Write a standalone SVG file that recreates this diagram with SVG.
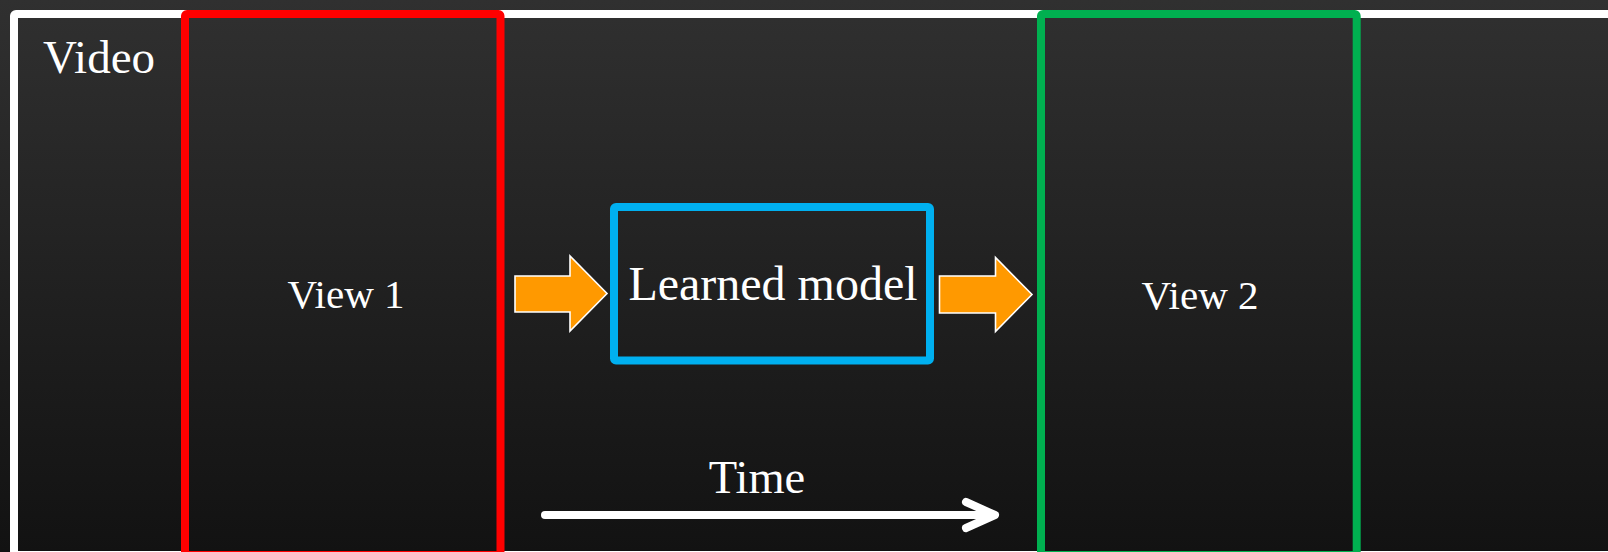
<svg xmlns="http://www.w3.org/2000/svg" width="1608" height="552" viewBox="0 0 1608 552">
  <defs>
    <linearGradient id="bg" x1="0" y1="0" x2="0" y2="1">
      <stop offset="0" stop-color="#303030"/>
      <stop offset="1" stop-color="#121212"/>
    </linearGradient>
  </defs>
  <style>
    .lbl { font-family: "Liberation Serif", "Times New Roman", serif; fill: #ffffff; }
    .frame { fill: none; stroke-width: 8; stroke-linejoin: round; }
    .flow { fill: #ff9900; stroke: #ffffff; stroke-width: 1.6; stroke-linejoin: miter; }
    .time { fill: none; stroke: #ffffff; stroke-width: 8; stroke-linecap: round; stroke-linejoin: round; }
  </style>

  <!-- backdrop -->
  <rect x="0" y="0" width="1608" height="552" fill="url(#bg)"/>

  <!-- video strip -->
  <g id="video">
    <rect x="14" y="14" width="1620" height="541" rx="2" class="frame" stroke="#ffffff"/>
    <text x="43" y="73" class="lbl" font-size="47">Video</text>
  </g>

  <g id="view1">
    <rect x="185" y="14" width="315.5" height="541" rx="2" class="frame" stroke="#ff0000"/>
    <text x="346" y="308" class="lbl" font-size="41" text-anchor="middle">View 1</text>
  </g>

  <g id="model">
    <rect x="614" y="207" width="316" height="153.5" rx="2" class="frame" stroke="#00b0f0"/>
    <text x="773" y="300" class="lbl" font-size="48" text-anchor="middle">Learned model</text>
  </g>

  <g id="view2">
    <rect x="1041" y="14" width="315.7" height="541" rx="2" class="frame" stroke="#00b050"/>
    <text x="1200" y="309" class="lbl" font-size="41" text-anchor="middle">View 2</text>
  </g>

  <g id="time">
    <text x="757" y="493" class="lbl" font-size="46.5" text-anchor="middle">Time</text>
  </g>

  <!-- connectors -->
  <g id="connectors">
    <polygon class="flow" points="515,276 570,276 570,256 607,293.5 570,331 570,312 515,312"/>
    <polygon class="flow" points="939.5,276 995.5,276 995.5,257.5 1032,294.5 995.5,331.5 995.5,313 939.5,313"/>
    <line class="time" x1="545" y1="515" x2="992" y2="515"/>
    <polyline class="time" points="966,502 995,515 966,528"/>
  </g>
</svg>
